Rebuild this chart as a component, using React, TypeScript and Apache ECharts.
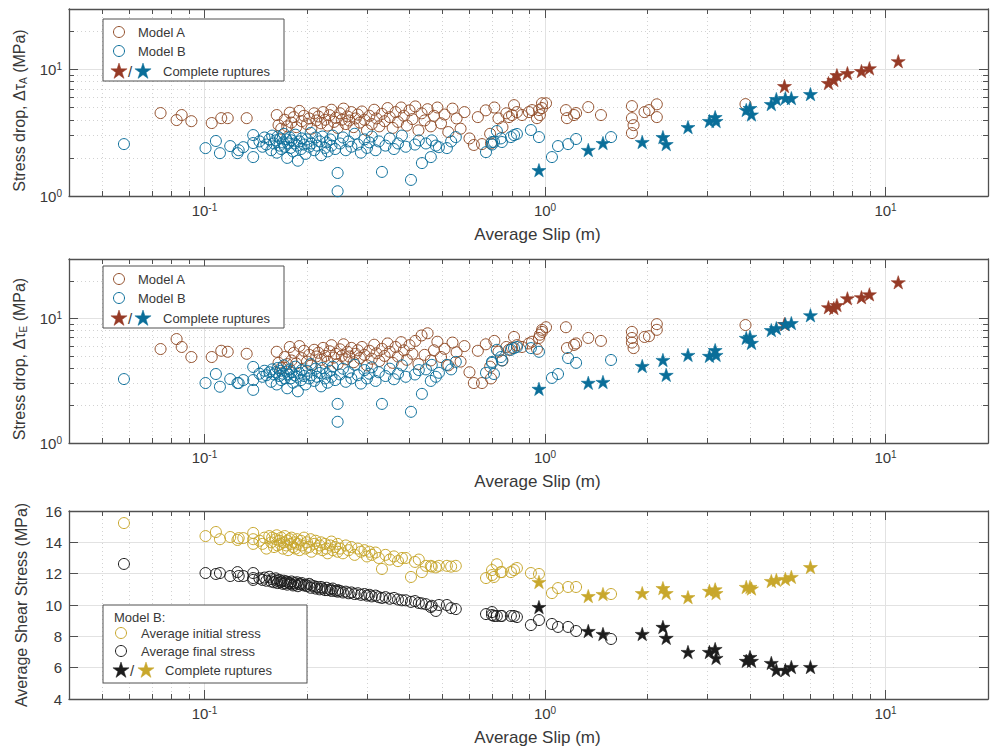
import React, { useEffect, useRef } from "react";
import * as echarts from "echarts";

// ---------------- Data ----------------
// Model B events (same events in all three panels)
const bSlip = [
  0.058, 0.1007, 0.108, 0.111, 0.119, 0.125, 0.126, 0.13, 0.139, 0.139,
  0.139, 0.145, 0.148, 0.15, 0.152, 0.155, 0.157, 0.158, 0.16, 0.162,
  0.163, 0.164, 0.166, 0.167, 0.168, 0.17, 0.171, 0.172, 0.174, 0.175,
  0.176, 0.178, 0.179, 0.18, 0.182, 0.184, 0.185, 0.187, 0.188, 0.19,
  0.192, 0.193, 0.196, 0.198, 0.2, 0.203, 0.205, 0.206, 0.21, 0.212,
  0.214, 0.218, 0.22, 0.222, 0.226, 0.228, 0.23, 0.234, 0.236, 0.238,
  0.242, 0.246, 0.246, 0.25, 0.255, 0.26, 0.265, 0.27, 0.276, 0.282,
  0.288, 0.295, 0.3, 0.305, 0.31, 0.318, 0.325, 0.332, 0.34, 0.35,
  0.36, 0.37, 0.38, 0.39, 0.404, 0.415, 0.426, 0.435, 0.447, 0.462,
  0.465, 0.478, 0.488, 0.515, 0.53, 0.547, 0.671, 0.699, 0.699, 0.708,
  0.722, 0.742, 0.747, 0.794, 0.811, 0.827, 0.909, 0.96, 1.048, 1.092,
  1.169, 1.234, 1.563,
];
const bDropA = [
  2.57, 2.39, 2.72, 2.18, 2.48, 2.18, 2.3, 2.43, 3.03, 2.62,
  2.03, 2.7, 2.45, 2.9, 2.55, 2.8, 2.3, 3.0, 2.6, 2.75,
  2.2, 2.95, 2.5, 2.85, 2.35, 2.65, 3.1, 2.45, 2.8, 2.0,
  2.6, 2.9, 2.4, 2.75, 2.25, 2.6, 3.05, 2.5, 1.9, 2.7,
  2.35, 2.85, 2.55, 2.15, 2.8, 2.45, 3.15, 2.6, 2.3, 2.9,
  2.5, 2.7, 2.1, 2.95, 2.4, 2.65, 2.25, 2.8, 2.5, 3.0,
  2.35, 1.09, 1.52, 2.6, 2.9, 2.3, 2.7, 2.45, 3.1, 2.55,
  2.2, 2.8, 2.4, 2.65, 2.95, 2.3, 2.7, 1.55, 2.5, 2.85,
  2.35, 2.6, 3.0, 2.45, 1.34, 2.55, 2.75, 1.82, 2.6, 2.03,
  2.75, 2.5, 2.43, 2.39, 2.7, 2.92, 2.22, 2.67, 2.55, 2.67,
  3.26, 2.85, 2.67, 2.92, 3.03, 3.09, 3.32, 2.92, 2.03, 2.48,
  2.57, 2.82, 2.92,
];
const bDropE = [
  3.26, 3.03, 3.58, 2.83, 3.26, 3.03, 3.03, 3.2, 4.08, 3.2,
  2.67, 3.6, 3.4, 3.8, 3.5, 3.7, 3.1, 3.9, 3.55, 3.7,
  2.95, 4.0, 3.45, 3.8, 3.2, 3.6, 4.2, 3.3, 3.75, 2.75,
  3.55, 3.9, 3.3, 3.7, 3.05, 3.5, 4.1, 3.4, 2.6, 3.65,
  3.2, 3.85, 3.45, 2.95, 3.8, 3.3, 4.3, 3.5, 3.15, 3.95,
  3.4, 3.65, 2.85, 4.0, 3.3, 3.6, 3.05, 3.8, 3.4, 4.1,
  3.2, 1.48, 2.06, 3.55, 3.95, 3.1, 3.7, 3.3, 4.25, 3.5,
  3.0, 3.85, 3.3, 3.6, 4.05, 3.15, 3.7, 2.06, 3.45, 3.95,
  3.25, 3.6, 4.2, 3.4, 1.78, 3.55, 3.85, 2.48, 3.9, 3.15,
  4.24, 3.4, 3.66, 4.24, 3.9, 4.48, 3.66, 4.48, 4.4, 3.58,
  5.6, 4.9, 4.6, 5.6, 5.78, 5.9, 5.78, 5.4, 3.33, 3.58,
  4.81, 4.4, 4.64,
];
const bInitial = [
  15.23, 14.4, 14.66, 14.2, 14.34, 14.15, 14.27, 14.27, 14.6, 14.2,
  13.9, 14.1, 13.9, 14.3, 13.6, 14.4, 14.0, 14.3, 13.7, 14.2,
  14.45, 13.8, 14.1, 13.9, 14.3, 13.6, 14.0, 14.4, 13.8, 14.1,
  13.5, 14.2, 13.9, 14.3, 13.7, 14.0, 13.6, 14.2, 13.9, 13.5,
  14.1, 13.8, 14.3, 13.6, 14.0, 13.7, 14.2, 13.4, 13.9, 14.1,
  13.6, 13.8, 14.0, 13.5, 13.9, 13.6, 13.3, 13.8, 14.05, 13.5,
  13.7, 13.9, 13.4, 13.6, 13.3, 13.8, 13.5, 13.7, 13.2, 13.6,
  13.4, 13.5, 13.1, 13.4, 13.2, 13.35, 13.0, 12.3, 13.2, 12.9,
  13.1, 12.8, 13.0, 13.0, 11.79, 12.75, 12.9, 12.1, 12.5, 12.5,
  12.45, 12.4, 12.5, 12.5, 12.45, 12.5, 11.72, 11.91, 12.23, 11.79,
  12.6, 12.1, 12.1, 12.1, 12.23, 12.36, 12.04, 11.98, 10.76, 11.08,
  11.15, 11.15, 10.7,
];
const bFinal = [
  12.62, 12.04, 11.98, 12.04, 11.85, 12.1, 11.85, 11.85, 12.04, 11.72,
  11.6, 11.7, 11.6, 11.75, 11.55, 11.8, 11.5, 11.65, 11.45, 11.7,
  11.55, 11.4, 11.6, 11.45, 11.5, 11.35, 11.55, 11.4, 11.5, 11.3,
  11.45, 11.4, 11.35, 11.5, 11.25, 11.4, 11.3, 11.45, 11.2, 11.35,
  11.3, 11.4, 11.25, 11.3, 11.2, 11.35, 11.1, 11.25, 11.2, 11.05,
  11.15, 11.0, 11.15, 11.05, 10.95, 11.1, 10.95, 11.0, 10.9, 11.05,
  10.9, 10.95, 10.85, 10.9, 10.8, 10.85, 10.75, 10.8, 10.7, 10.75,
  10.65, 10.7, 10.6, 10.65, 10.55, 10.6, 10.5, 10.45, 10.5, 10.4,
  10.45, 10.35, 10.3, 10.3, 10.2, 10.25, 10.13, 10.1, 10.05, 9.87,
  9.95, 9.62, 10.0, 10.0, 9.8, 9.74, 9.42, 9.55, 9.36, 9.3,
  9.3, 9.3, 9.3, 9.3, 9.3, 9.23, 8.72, 9.04, 8.79, 8.6,
  8.6, 8.34, 7.83,
];

// Model B complete ruptures
const bStarSlip = [0.96, 1.34, 1.48, 1.93, 2.22, 2.27, 2.63, 3.04, 3.16, 3.18, 3.9, 4.0, 4.04, 4.62, 4.78, 5.08, 5.29, 6.02];
const bStarDropA = [1.6, 2.31, 2.62, 2.67, 2.92, 2.57, 3.5, 3.91, 4.2, 3.91, 4.78, 4.95, 4.4, 5.32, 5.83, 5.93, 5.93, 6.38];
const bStarDropE = [2.72, 3.04, 3.09, 4.15, 4.64, 3.52, 5.09, 5.0, 5.57, 5.09, 6.97, 7.1, 6.36, 8.06, 8.35, 9.0, 9.17, 10.6];
const bStarInitial = [11.47, 10.57, 10.7, 10.76, 11.08, 10.76, 10.5, 10.9, 11.0, 10.76, 11.15, 11.15, 11.05, 11.53, 11.6, 11.66, 11.79, 12.42];
const bStarFinal = [9.87, 8.34, 8.15, 8.15, 8.6, 7.9, 7.0, 7.0, 7.19, 6.62, 6.43, 6.68, 6.43, 6.3, 5.85, 5.85, 6.04, 6.04];

// Model A events
const aSlip = [
  0.0743, 0.0828, 0.0857, 0.0915, 0.105, 0.112, 0.117, 0.133,
  0.163, 0.165, 0.168, 0.172, 0.175, 0.178, 0.18, 0.183, 0.186, 0.19,
  0.193, 0.196, 0.2, 0.203, 0.206, 0.21, 0.213, 0.216, 0.22, 0.223,
  0.226, 0.23, 0.233, 0.236, 0.24, 0.243, 0.246, 0.25, 0.253, 0.256,
  0.26, 0.263, 0.266, 0.27, 0.274, 0.278, 0.282, 0.286, 0.29, 0.295,
  0.3, 0.305, 0.31, 0.315, 0.32, 0.326, 0.332, 0.338, 0.345, 0.35,
  0.357, 0.364, 0.37, 0.378, 0.385, 0.393, 0.4, 0.408, 0.416, 0.425,
  0.434, 0.443, 0.452, 0.462, 0.472, 0.483, 0.495, 0.507, 0.52, 0.535,
  0.55, 0.565, 0.58, 0.6, 0.618, 0.635, 0.653, 0.67, 0.69, 0.694,
  0.71, 0.73, 0.75, 0.77, 0.784, 0.8, 0.811, 0.827, 0.856, 0.897,
  0.916, 0.947, 0.96, 0.966, 0.98, 0.98, 1.007, 1.152, 1.16, 1.217,
  1.234, 1.34, 1.46, 1.8, 1.8, 1.82, 1.8, 1.96, 2.02, 2.13,
  2.13, 3.88,
];
const aDropA = [
  4.52, 3.98, 4.36, 3.9, 3.77, 4.12, 4.12, 4.12,
  4.36, 3.63, 3.4, 4.0, 3.55, 4.55, 3.8, 4.2, 3.5, 4.7,
  3.9, 4.3, 3.7, 4.1, 3.4, 4.5, 3.95, 4.25, 3.75, 4.6,
  4.0, 3.6, 4.35, 4.8, 3.85, 4.15, 3.45, 4.5, 4.0, 4.9,
  3.7, 4.25, 3.95, 4.6, 3.5, 4.1, 4.4, 3.8, 4.65, 4.0,
  3.3, 4.3, 3.7, 4.8, 4.1, 3.55, 4.45, 3.9, 4.95, 4.2,
  3.45, 4.6, 3.85, 5.0, 4.3, 3.6, 4.75, 4.05, 5.1, 3.3,
  4.5, 3.95, 4.85, 3.55, 4.3, 5.0, 3.75, 4.4, 3.2, 4.9,
  4.1, 3.4, 4.6, 2.85, 2.53, 4.2, 2.57, 4.75, 3.1, 2.6,
  5.0, 4.1, 3.5, 4.5, 4.2, 4.36, 5.22, 4.6, 4.36, 4.6,
  4.77, 4.12, 4.77, 4.36, 4.95, 5.4, 5.4, 4.77, 4.12, 4.36,
  4.52, 5.04, 4.36, 5.13, 4.12, 3.63, 3.14, 4.6, 4.77, 5.3,
  4.2, 5.32,
];
const aDropE = [
  5.68, 6.83, 5.9, 4.9, 4.9, 5.5, 5.4, 5.2,
  5.4, 4.4, 4.0, 4.9, 4.3, 5.9, 4.6, 5.3, 4.35, 6.0,
  4.8, 5.5, 4.5, 5.1, 4.2, 5.6, 4.95, 5.3, 4.65, 5.8,
  5.0, 4.5, 5.45, 6.1, 4.85, 5.2, 4.3, 5.65, 5.0, 6.2,
  4.7, 5.4, 4.95, 5.8, 4.45, 5.2, 5.55, 4.8, 5.9, 5.1,
  4.2, 5.5, 4.75, 6.15, 5.25, 4.55, 5.7, 5.0, 6.3, 5.4,
  4.4, 5.9, 4.95, 6.45, 5.55, 4.65, 6.1, 5.2, 6.6, 4.3,
  7.3, 5.1, 7.6, 4.6, 5.55, 6.5, 4.9, 5.7, 4.2, 6.4,
  5.35, 4.5, 6.0, 3.7, 3.03, 5.5, 3.03, 6.2, 4.1, 3.3,
  6.6, 5.4, 4.6, 5.9, 5.6, 5.8, 7.1, 6.1, 5.9, 6.3,
  6.5, 5.7, 6.97, 7.4, 7.8, 8.1, 8.5, 8.5, 5.78, 6.13,
  6.3, 6.97, 6.6, 7.8, 6.97, 5.78, 6.4, 7.1, 7.2, 9.0,
  8.1, 8.85,
];

// Model A complete ruptures
const aStarSlip = [5.05, 6.8, 7.05, 7.2, 7.73, 8.5, 8.97, 10.9];
const aStarDropA = [7.38, 7.8, 8.24, 9.0, 9.35, 9.7, 10.2, 11.6];
const aStarDropE = [9.0, 12.3, 12.1, 12.8, 14.5, 14.8, 15.6, 19.5];

// Axes
const X_RANGE = [0.04, 20];
const X_MAJOR = [0.1, 1, 10];
const X_MINOR = [0.05, 0.06, 0.07, 0.08, 0.09, 0.2, 0.3, 0.4, 0.5, 0.6, 0.7, 0.8, 0.9, 2, 3, 4, 5, 6, 7, 8, 9];
const Y_LOG_RANGE = [1, 30];
const Y_LOG_MAJOR = [1, 10];
const Y_LOG_MINOR = [2, 3, 4, 5, 6, 7, 8, 9, 20];
const Y_LIN_RANGE = [4, 16];
const Y_LIN_STEP = 2;

// ---------------- Styling ----------------
const FONT = '"Liberation Sans", Arial, Helvetica, sans-serif';
const TXT = "#383838";
const AX = "#505050";
const GRID_MAJOR = "#e2e2e2";
const GRID_MINOR = "#d2d2d2";
const C_A = "#93502c";
const C_A_STAR = "#963a26";
const C_B = "#0c6f9b";
const C_B_STAR = "#0a6e99";
const C_INIT = "#c8a72c";
const C_FINAL = "#1c1c1c";

const lg = Math.log10;

const GRIDS = [
  { top: 9, height: 187 },
  { top: 259, height: 184 },
  { top: 511, height: 188 },
];

function starPts(cx: number, cy: number, R: number) {
  const pts: number[][] = [];
  for (let k = 0; k < 10; k++) {
    const r = k % 2 === 0 ? R : R * 0.382;
    const a = -Math.PI / 2 + (k * Math.PI) / 5;
    pts.push([cx + r * Math.cos(a), cy + r * Math.sin(a)]);
  }
  return pts;
}
const STAR_PATH =
  "path://" +
  starPts(50, 50, 50)
    .map((p, i) => `${i === 0 ? "M" : "L"}${p[0].toFixed(2)} ${p[1].toFixed(2)}`)
    .join(" ") +
  " Z";

const powLabel = (v: number) => `{b|10}{s|${Math.round(v)}}`;
const powRich = {
  b: { fontSize: 15, fontFamily: FONT, color: TXT, lineHeight: 16, verticalAlign: "bottom" },
  s: { fontSize: 10, fontFamily: FONT, color: TXT, lineHeight: 10, verticalAlign: "top", padding: [0, 0, 6, 0] },
};

const axLine = { show: true, onZero: false, lineStyle: { color: AX, width: 1.3 } };
const tick = (vals: number[] | undefined, len: number) => ({
  show: true,
  inside: true,
  length: len,
  ...(vals ? { customValues: vals } : {}),
  lineStyle: { color: AX, width: 1 },
});
const majorSplit = { show: true, lineStyle: { color: GRID_MAJOR, width: 1 } };
const minorSplit = { show: true, lineStyle: { color: GRID_MINOR, width: 1, type: [1, 3] } };

function makeXAxes(g: number) {
  const min = lg(X_RANGE[0]);
  const max = lg(X_RANGE[1]);
  const maj = X_MAJOR.map(lg);
  const mnr = X_MINOR.map(lg);
  const base = {
    type: "value",
    gridIndex: g,
    min,
    max,
    silent: true,
    axisLine: { show: false, onZero: false },
    axisLabel: { show: false },
    axisTick: { show: false },
    splitLine: { show: false },
  };
  return [
    {
      ...base,
      position: "bottom",
      axisLine: axLine,
      axisTick: tick(maj, 9),
      axisLabel: { show: true, customValues: maj, formatter: powLabel, rich: powRich, margin: 6 },
      splitLine: majorSplit,
      name: "Average Slip (m)",
      nameLocation: "middle",
      nameGap: 30,
      nameTextStyle: { fontSize: 17, fontFamily: FONT, color: TXT, padding: [0, 0, 0, 18] },
    },
    { ...base, position: "bottom", axisTick: tick(mnr, 5), splitLine: minorSplit },
    { ...base, position: "top", axisLine: axLine, axisTick: tick(maj, 9) },
    { ...base, position: "top", axisTick: tick(mnr, 5) },
  ];
}

const nameRich = {
  sub: { fontSize: 10, fontFamily: FONT, color: TXT, lineHeight: 10, verticalAlign: "bottom", padding: [9, 0, 0, 0] },
  pad: { width: 16, lineHeight: 19 },
};

function makeYLogAxes(g: number, name: string) {
  const min = lg(Y_LOG_RANGE[0]);
  const max = lg(Y_LOG_RANGE[1]);
  const maj = Y_LOG_MAJOR.map(lg);
  const mnr = Y_LOG_MINOR.map(lg);
  const base = {
    type: "value",
    gridIndex: g,
    min,
    max,
    silent: true,
    axisLine: { show: false, onZero: false },
    axisLabel: { show: false },
    axisTick: { show: false },
    splitLine: { show: false },
  };
  return [
    {
      ...base,
      position: "left",
      axisLine: axLine,
      axisTick: tick(maj, 9),
      axisLabel: { show: true, customValues: maj, formatter: powLabel, rich: powRich, margin: 7 },
      splitLine: majorSplit,
      name,
      nameLocation: "middle",
      nameGap: 38,
      nameTextStyle: { fontSize: 16, fontFamily: FONT, color: TXT, lineHeight: 19, rich: nameRich },
    },
    { ...base, position: "left", axisTick: tick(mnr, 5), splitLine: minorSplit },
    { ...base, position: "right", axisLine: axLine, axisTick: tick(maj, 9) },
    { ...base, position: "right", axisTick: tick(mnr, 5) },
  ];
}

function makeYLinAxes(g: number) {
  const base = {
    type: "value",
    gridIndex: g,
    min: Y_LIN_RANGE[0],
    max: Y_LIN_RANGE[1],
    interval: Y_LIN_STEP,
    silent: true,
  };
  return [
    {
      ...base,
      position: "left",
      axisLine: axLine,
      axisTick: tick(undefined, 9),
      axisLabel: { show: true, fontSize: 15, fontFamily: FONT, color: TXT, margin: 7 },
      splitLine: majorSplit,
      name: "Average Shear Stress (MPa)",
      nameLocation: "middle",
      nameGap: 40,
      nameTextStyle: { fontSize: 16, fontFamily: FONT, color: TXT },
    },
    {
      ...base,
      position: "right",
      axisLine: axLine,
      axisTick: tick(undefined, 9),
      axisLabel: { show: false },
      splitLine: { show: false },
    },
  ];
}

const logPairs = (xs: number[], ys: number[]) => xs.map((x, i) => [lg(x), lg(ys[i])]);
const linPairs = (xs: number[], ys: number[]) => xs.map((x, i) => [lg(x), ys[i]]);

function circles(name: string, data: number[][], color: string, xi: number, yi: number) {
  return {
    type: "scatter",
    name,
    xAxisIndex: xi,
    yAxisIndex: yi,
    data,
    symbol: "circle",
    symbolSize: 11,
    silent: true,
    itemStyle: { color: "rgba(0,0,0,0)", borderColor: color, borderWidth: 1, opacity: 1 },
    z: 3,
  };
}
function stars(name: string, data: number[][], color: string, xi: number, yi: number, z: number) {
  return {
    type: "scatter",
    name,
    xAxisIndex: xi,
    yAxisIndex: yi,
    data,
    symbol: STAR_PATH,
    symbolSize: 14,
    symbolKeepAspect: true,
    silent: true,
    itemStyle: { color, borderColor: color, borderWidth: 0.6, opacity: 1 },
    z,
  };
}

// ---------------- Legend (drawn as graphic) ----------------
const gBox = (x: number, y: number, w: number, h: number) => ({
  type: "rect",
  shape: { x, y, width: w, height: h },
  style: { fill: "#ffffff", stroke: AX, lineWidth: 1 },
  z: 100,
});
const gCircle = (cx: number, cy: number, color: string) => ({
  type: "circle",
  shape: { cx, cy, r: 5.5 },
  style: { fill: "none", stroke: color, lineWidth: 1 },
  z: 101,
});
const gStar = (cx: number, cy: number, color: string) => ({
  type: "polygon",
  shape: { points: starPts(cx, cy + 0.5, 8.5) },
  style: { fill: color, stroke: color, lineWidth: 0.5 },
  z: 101,
});
const gText = (x: number, y: number, text: string, size = 13) => ({
  type: "text",
  x,
  y,
  style: { text, fill: TXT, font: `${size}px ${FONT}`, verticalAlign: "middle", textAlign: "left" },
  z: 101,
});

function abLegend(top: number) {
  return [
    gBox(103, top, 181, 62),
    gCircle(119, top + 13, C_A),
    gText(138, top + 13, "Model A"),
    gCircle(119, top + 32, C_B),
    gText(138, top + 32, "Model B"),
    gStar(119, top + 52, C_A_STAR),
    gText(128, top + 52, "/", 15),
    gStar(143, top + 52, C_B_STAR),
    gText(163, top + 52, "Complete ruptures"),
  ];
}
const legend3 = [
  gBox(103, 605, 204, 78),
  gText(114, 617, "Model B:"),
  gCircle(121, 633, C_INIT),
  gText(141, 633, "Average initial stress"),
  gCircle(121, 651, C_FINAL),
  gText(141, 651, "Average final stress"),
  gStar(121, 670, C_FINAL),
  gText(130, 670, "/", 15),
  gStar(146, 670, C_INIT),
  gText(165, 670, "Complete ruptures"),
];

const option = {
  animation: false,
  backgroundColor: "#ffffff",
  textStyle: { fontFamily: FONT },
  grid: GRIDS.map((g) => ({ left: 69, right: 4, top: g.top, height: g.height, outerBoundsMode: "none" })),
  xAxis: [...makeXAxes(0), ...makeXAxes(1), ...makeXAxes(2)],
  yAxis: [
    ...makeYLogAxes(0, "Stress drop, Δτ{sub|A} (MPa){pad|}"),
    ...makeYLogAxes(1, "Stress drop, Δτ{sub|E} (MPa){pad|}"),
    ...makeYLinAxes(2),
  ],
  series: [
    circles("Model A", logPairs(aSlip, aDropA), C_A, 0, 0),
    circles("Model B", logPairs(bSlip, bDropA), C_B, 0, 0),
    stars("Model A complete", logPairs(aStarSlip, aStarDropA), C_A_STAR, 0, 0, 4),
    stars("Model B complete", logPairs(bStarSlip, bStarDropA), C_B_STAR, 0, 0, 5),

    circles("Model A ", logPairs(aSlip, aDropE), C_A, 4, 4),
    circles("Model B ", logPairs(bSlip, bDropE), C_B, 4, 4),
    stars("Model A complete ", logPairs(aStarSlip, aStarDropE), C_A_STAR, 4, 4, 4),
    stars("Model B complete ", logPairs(bStarSlip, bStarDropE), C_B_STAR, 4, 4, 5),

    circles("Average initial stress", linPairs(bSlip, bInitial), C_INIT, 8, 8),
    circles("Average final stress", linPairs(bSlip, bFinal), C_FINAL, 8, 8),
    stars("Final (complete)", linPairs(bStarSlip, bStarFinal), C_FINAL, 8, 8, 4),
    stars("Initial (complete)", linPairs(bStarSlip, bStarInitial), C_INIT, 8, 8, 5),
  ],
  graphic: [...abLegend(19), ...abLegend(266), ...legend3],
};

export default function App() {
  const ref = useRef<HTMLDivElement>(null);
  useEffect(() => {
    document.body.style.margin = "0";
    const chart = echarts.init(ref.current as HTMLDivElement, null, { renderer: "svg" });
    chart.setOption(option as any);
    return () => chart.dispose();
  }, []);
  return <div ref={ref} style={{ width: 992, height: 750 }} />;
}
